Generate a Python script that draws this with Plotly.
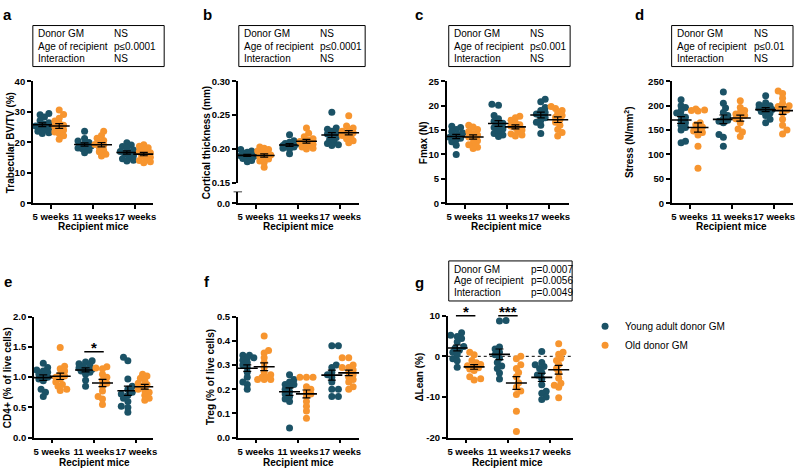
import numpy as np
import plotly.graph_objects as go

W, H = 800, 473
TEAL = '#1b5266'
ORANGE = '#f7952f'
FONT = 'Arial, Liberation Sans, Helvetica, sans-serif'

weeks = ['5 weeks', '11 weeks', '17 weeks']
groups = ['Young adult donor GM', 'Old donor GM']

# a  trabecular BV/TV (%)  -- one list per recipient age (5, 11, 17 weeks)
bvtv_young = [[29.4, 29.0, 28.3, 27.1, 26.4, 25.9, 25.3, 25.0, 24.6, 24.0, 23.6, 23.1, 22.9],
              [23.6, 21.2, 20.4, 19.9, 19.5, 19.1, 18.8, 18.5, 18.1, 17.9, 17.4, 16.6],
              [19.8, 19.1, 18.6, 18.0, 17.5, 17.0, 16.6, 16.2, 15.6, 15.1, 14.6, 14.1, 13.9]]
bvtv_old = [[30.6, 29.1, 27.9, 27.0, 26.2, 25.6, 25.1, 24.5, 24.0, 23.4, 22.9, 22.1, 21.0],
            [23.6, 22.2, 21.3, 20.6, 20.0, 19.3, 19.0, 18.4, 17.4, 16.9, 16.1, 15.5],
            [19.2, 18.7, 18.2, 17.6, 17.0, 16.6, 16.1, 15.6, 15.1, 14.6, 14.0, 13.6, 13.3]]

# b  cortical thickness (mm)
cort_young = [[0.199, 0.197, 0.195, 0.194, 0.193, 0.192, 0.191, 0.190, 0.189, 0.187, 0.186, 0.183, 0.181],
              [0.221, 0.212, 0.210, 0.208, 0.207, 0.206, 0.205, 0.204, 0.203, 0.201, 0.200, 0.193],
              [0.254, 0.231, 0.229, 0.226, 0.224, 0.222, 0.220, 0.217, 0.214, 0.211, 0.208, 0.206, 0.205]]
cort_old = [[0.203, 0.201, 0.199, 0.197, 0.195, 0.193, 0.191, 0.189, 0.187, 0.185, 0.182, 0.180, 0.173],
            [0.231, 0.223, 0.218, 0.215, 0.213, 0.211, 0.209, 0.207, 0.205, 0.203, 0.201, 0.200],
            [0.249, 0.234, 0.231, 0.228, 0.226, 0.224, 0.222, 0.220, 0.218, 0.215, 0.212, 0.209]]

# c  Fmax (N)
fmax_young = [[15.8, 15.5, 15.1, 14.7, 14.4, 14.1, 13.8, 13.5, 13.3, 13.0, 12.6, 11.9, 10.0],
              [20.3, 20.1, 18.0, 17.3, 16.8, 16.4, 16.0, 15.5, 15.2, 14.8, 14.3, 14.0, 13.7],
              [21.3, 20.8, 19.6, 19.0, 18.6, 18.3, 18.0, 17.5, 17.0, 16.6, 16.0, 14.3]]
fmax_old = [[16.0, 15.6, 15.1, 14.7, 14.3, 14.0, 13.6, 13.3, 12.8, 12.3, 12.0, 11.5, 11.2],
            [17.8, 17.5, 17.0, 16.5, 16.1, 15.8, 15.5, 15.0, 14.6, 14.2, 14.0, 13.8],
            [19.8, 19.4, 19.0, 18.5, 18.0, 17.6, 17.1, 16.6, 16.0, 15.1, 14.5, 13.8]]

# d  stress (N/mm2)
stress_young = [[212, 200, 196, 190, 185, 180, 176, 170, 165, 160, 155, 150, 127, 124],
                [228, 205, 195, 186, 180, 173, 170, 168, 165, 141, 135, 117],
                [220, 206, 202, 200, 198, 195, 192, 190, 188, 185, 180, 172, 165]]
stress_old = [[193, 191, 190, 189, 165, 161, 156, 152, 148, 145, 140, 117, 72],
              [210, 196, 190, 186, 183, 180, 177, 173, 165, 152, 146, 137],
              [230, 225, 215, 205, 200, 198, 195, 191, 185, 172, 160, 150, 142]]

# e  CD4+ (% of live cells)
cd4_young = [[1.23, 1.16, 1.12, 1.10, 1.08, 1.05, 1.02, 1.00, 0.97, 0.94, 0.80, 0.75, 0.68],
             [1.27, 1.25, 1.22, 1.20, 1.18, 1.15, 1.13, 1.12, 1.10, 1.08, 1.05, 0.95, 0.85],
             [1.33, 1.27, 0.97, 0.85, 0.80, 0.75, 0.72, 0.70, 0.65, 0.60, 0.52, 0.50, 0.42]]
cd4_old = [[1.49, 1.18, 1.14, 1.10, 1.05, 1.02, 1.00, 0.97, 0.92, 0.88, 0.85, 0.80, 0.78],
           [1.17, 1.15, 1.14, 1.05, 1.00, 0.95, 0.90, 0.85, 0.77, 0.68, 0.64, 0.55],
           [1.05, 1.02, 0.98, 0.95, 0.90, 0.88, 0.85, 0.80, 0.78, 0.75, 0.70, 0.65, 0.62]]

# f  Treg (% of live cells)
treg_young = [[0.34, 0.34, 0.33, 0.33, 0.32, 0.31, 0.30, 0.29, 0.27, 0.25, 0.23, 0.22, 0.20],
              [0.26, 0.24, 0.23, 0.22, 0.22, 0.21, 0.20, 0.19, 0.18, 0.17, 0.16, 0.15, 0.04],
              [0.38, 0.38, 0.30, 0.29, 0.27, 0.26, 0.25, 0.23, 0.20, 0.20, 0.17, 0.17]]
treg_old = [[0.42, 0.36, 0.35, 0.33, 0.31, 0.29, 0.27, 0.26, 0.25, 0.25, 0.24, 0.24, 0.24],
            [0.25, 0.25, 0.25, 0.21, 0.20, 0.19, 0.18, 0.17, 0.15, 0.13, 0.11, 0.08],
            [0.33, 0.33, 0.30, 0.29, 0.29, 0.28, 0.27, 0.26, 0.25, 0.24, 0.23, 0.21, 0.20]]

# g  delta lean (%)
lean_young = [[5.8, 5.2, 4.9, 4.4, 3.5, 2.4, 2.0, 1.5, 1.0, 0.4, -0.6, -1.1, -2.7],
              [8.8, 8.7, 2.3, 1.8, 1.0, 0.4, -0.5, -1.5, -2.4, -3.0, -4.1, -5.6],
              [1.2, -1.5, -2.1, -2.5, -3.0, -4.0, -4.6, -5.5, -7.0, -8.6, -9.1, -10.0, -10.6]]
lean_old = [[1.0, 0.4, -1.0, -1.6, -2.0, -2.3, -2.6, -2.8, -3.1, -3.5, -5.0, -5.5, -5.8],
            [0.0, -0.6, -2.1, -3.0, -4.0, -5.0, -6.5, -7.6, -8.5, -9.4, -13.5, -18.5],
            [3.1, 1.0, 0.5, -0.5, -1.0, -2.0, -3.0, -4.1, -5.4, -6.6, -7.1, -7.6, -10.2]]

stats_labels = ['Donor GM', 'Age of recipient', 'Interaction']
stats_a = ['NS', 'p≤0.0001', 'NS']
stats_b = ['NS', 'p≤0.0001', 'NS']
stats_c = ['NS', 'p≤0.001', 'NS']
stats_d = ['NS', 'p≤0.01', 'NS']
stats_g = ['p=0.0007', 'p=0.0056', 'p=0.0049']


def px(x):
    return x / W


def py(y):
    return 1 - y / H


PX_PER_GROUP = 42.5
OFFSET = 0.2

# panel geometry in pixels: axis left/right, top/bottom
panels = [
    dict(key='a', young=bvtv_young, old=bvtv_old, x0=33, x1=154, y0=77, y1=202, rng=[0, 40],
         tv=[0, 10, 20, 30, 40], tt=['0', '10', '20', '30', '40'], title='Trabecular BV/TV (%)',
         tx=10, lab=(8, 9), stats=stats_a, box=(33, 165, 20, 62), col2=113),
    dict(key='b', young=cort_young, old=cort_old, x0=239, x1=361, y0=77, y1=181, rng=[0.15, 0.30],
         tv=[0.15, 0.20, 0.25, 0.30], tt=['0.15', '0.20', '0.25', '0.30'], title='Cortical thickness (mm)',
         tx=207, lab=(209, 9), stats=stats_b, box=(240, 367, 20, 62), col2=320),
    dict(key='c', young=fmax_young, old=fmax_old, x0=449, x1=572, y0=77, y1=202, rng=[0, 25],
         tv=[0, 5, 10, 15, 20, 25], tt=['0', '5', '10', '15', '20', '25'], title='Fmax (N)',
         tx=425, lab=(421, 9), stats=stats_c, box=(451, 573, 20, 62), col2=531),
    dict(key='d', young=stress_young, old=stress_old, x0=675, x1=797, y0=77, y1=202, rng=[0, 250],
         tv=[0, 50, 100, 150, 200, 250], tt=['0', '50', '100', '150', '200', '250'],
         title='Stress (N/mm<sup>2</sup>)', tx=632, lab=(643, 9), stats=stats_d, box=(675, 797, 20, 62), col2=756),
    dict(key='e', young=cd4_young, old=cd4_old, x0=34, x1=154, y0=318, y1=442, rng=[0, 2],
         tv=[0, 0.5, 1, 1.5, 2], tt=['0.0', '0.5', '1.0', '1.5', '2.0'], title='CD4+ (% of live cells)',
         tx=7, lab=(8, 282), stats=None),
    dict(key='f', young=treg_young, old=treg_old, x0=239, x1=361, y0=318, y1=442, rng=[0, 0.5],
         tv=[0, 0.1, 0.2, 0.3, 0.4, 0.5], tt=['0.0', '0.1', '0.2', '0.3', '0.4', '0.5'],
         title='Treg (% of live cells)', tx=211, lab=(208, 282), stats=None),
    dict(key='g', young=lean_young, old=lean_old, x0=450, x1=576, y0=317, y1=442, rng=[-20, 10],
         tv=[-20, -10, 0, 10], tt=['-20', '-10', '0', '10'], title='ΔLean (%)',
         tx=422, lab=(422, 283), stats=stats_g, box=(451, 575, 261, 302), col2=532),
]


def swarm(vals, ppu, diam=4.6, step=2.2, maxoff=6.6):
    vals = np.asarray(vals, float)
    order = np.argsort(vals)
    placed = []
    offs = np.zeros(len(vals))
    cands = [0.0]
    k = 1
    while k * step <= maxoff + 1e-9:
        cands += [-k * step, k * step]
        k += 1
    for n, i in enumerate(order):
        yv = vals[i] * ppu
        cc = cands if n % 2 == 0 else [-c for c in cands]
        best = None
        for c in cc:
            if all((c - a) ** 2 + (yv - b) ** 2 >= diam ** 2 for a, b in placed):
                best = c
                break
        if best is None:
            best = max(cc, key=lambda c: min((c - a) ** 2 + (yv - b) ** 2 for a, b in placed))
        placed.append((best, yv))
        offs[i] = best / PX_PER_GROUP
    return offs


def note(text, x, y, size=10, bold=False, xanchor='center', **kw):
    d = dict(text=text, x=x, y=y, xref='paper', yref='paper', xanchor=xanchor, yanchor='middle',
             showarrow=False, font=dict(family=FONT, size=size, color='black',
                                        weight='bold' if bold else 'normal'))
    d.update(kw)
    return d


fig = go.Figure()
layout = dict(width=W, height=H, margin=dict(l=0, r=0, t=0, b=0),
              plot_bgcolor='white', paper_bgcolor='white',
              font=dict(family=FONT, size=10, color='black'))
annotations = []
shapes = []

axis_font = dict(family=FONT, size=9.5, color='black', weight='bold')
base_axis = dict(showline=True, linewidth=1.5, linecolor='black', ticks='outside', ticklen=4,
                 tickwidth=1.5, tickcolor='black', showgrid=False, zeroline=False,
                 tickfont=axis_font, fixedrange=True, tickangle=0)

for i, p in enumerate(panels):
    n = i + 1
    xa = 'x' if n == 1 else 'x%d' % n
    ya = 'y' if n == 1 else 'y%d' % n
    # first tick is 18 px right of the axis line
    left = -18 / PX_PER_GROUP
    right = left + (p['x1'] - p['x0']) / PX_PER_GROUP
    ppu = (p['y1'] - p['y0']) / (p['rng'][1] - p['rng'][0])

    xkey = 'xaxis' if n == 1 else 'xaxis%d' % n
    ykey = 'yaxis' if n == 1 else 'yaxis%d' % n
    layout[xkey] = dict(base_axis, domain=[px(p['x0']), px(p['x1'])], range=[left, right],
                        tickvals=[0, 1, 2], ticktext=weeks, anchor=ya)
    layout[ykey] = dict(base_axis, domain=[py(p['y1']), py(p['y0'])], range=p['rng'],
                        tickvals=p['tv'], ticktext=p['tt'], anchor=xa)

    for g, (data, color, off) in enumerate([(p['young'], TEAL, -OFFSET), (p['old'], ORANGE, OFFSET)]):
        for w in range(3):
            vals = np.asarray(data[w], float)
            xs = w + off + swarm(vals, ppu)
            fig.add_trace(go.Scatter(
                x=xs, y=vals, mode='markers', xaxis=xa, yaxis=ya,
                marker=dict(color=color, size=7, line=dict(width=0)),
                name=groups[g], legendgroup=groups[g],
                showlegend=(n == 1 and w == 0), cliponaxis=False))
        for w in range(3):
            vals = np.asarray(data[w], float)
            m = vals.mean()
            sem = vals.std(ddof=1) / np.sqrt(len(vals))
            fig.add_trace(go.Scatter(
                x=[w + off], y=[m], mode='markers', xaxis=xa, yaxis=ya,
                marker=dict(symbol='line-ew', size=15, color='black',
                            line=dict(width=1.6, color='black')),
                error_y=dict(type='data', array=[sem], color='black', thickness=1.2, width=4),
                showlegend=False, hoverinfo='skip'))

    # y title
    ymid = (p['y0'] + (202 if p['key'] == 'b' else p['y1'])) / 2
    annotations.append(note(p['title'], px(p['tx']), py(ymid), bold=True, textangle=-90))
    # x title
    xt_y = 226 if p['y1'] < 300 else 467
    annotations.append(note('Recipient mice', 1, py(xt_y), bold=True, xref=xa))
    # panel letter
    annotations.append(note(p['key'], px(p['lab'][0]), py(p['lab'][1]), size=15, bold=True))
    # stats box
    if p['stats'] is not None:
        bx0, bx1, by0, by1 = p['box']
        shapes.append(dict(type='rect', xref='paper', yref='paper', x0=px(bx0), x1=px(bx1),
                           y0=py(by1), y1=py(by0), line=dict(color='black', width=1)))
        row_h = (by1 - by0) / 3.4
        for r in range(3):
            yc = by0 + row_h * (r + 0.7)
            annotations.append(note(stats_labels[r], px(bx0 + 3), py(yc), xanchor='left'))
            annotations.append(note(p['stats'][r], px(p['col2']), py(yc), xanchor='left'))

# panel b: broken axis, lower stub with 0.0 and a cap at its top
layout['xaxis2']['anchor'] = 'y8'
layout['yaxis8'] = dict(base_axis, domain=[py(202), py(190)], range=[0, 1], tickvals=[0],
                        ticktext=['0.0'], anchor='x2')
shapes.append(dict(type='line', xref='x2 domain', yref='y8', x0=-0.035, x1=0.035, y0=1, y1=1,
                   line=dict(color='black', width=1.5)))

# panel e significance
shapes.append(dict(type='line', xref='x5', yref='y5', x0=1 - 0.23, x1=1 + 0.23, y0=1.42, y1=1.42,
                   line=dict(color='black', width=1.5)))
annotations.append(dict(text='*', x=1, xref='x5', y=1.42, yref='y5', yanchor='bottom', yshift=-6,
                        showarrow=False, font=dict(family=FONT, size=15, weight='bold')))
# panel g significance + zero line
for w, star in [(0, '*'), (1, '***')]:
    shapes.append(dict(type='line', xref='x7', yref='y7 domain', x0=w - 0.23, x1=w + 0.23, y0=1, y1=1,
                       line=dict(color='black', width=1.5)))
    annotations.append(dict(text=star, x=w, xref='x7', y=1, yref='y7 domain', yanchor='bottom', yshift=-6,
                            showarrow=False, font=dict(family=FONT, size=15, weight='bold')))
shapes.append(dict(type='line', xref='x7 domain', yref='y7', x0=0, x1=1, y0=0, y1=0,
                   line=dict(color='black', width=1, dash='dot'), layer='below'))

layout['annotations'] = annotations
layout['shapes'] = shapes
layout['showlegend'] = True
layout['legend'] = dict(x=px(588), y=py(313), xanchor='left', yanchor='top',
                        font=dict(family=FONT, size=10), bgcolor='rgba(0,0,0,0)',
                        itemsizing='trace', itemwidth=30, tracegroupgap=0)
fig.update_layout(**layout)
fig.write_html('out.html', config={'displayModeBar': False},
               post_script="document.body.style.margin='0';document.body.style.overflow='hidden';")
